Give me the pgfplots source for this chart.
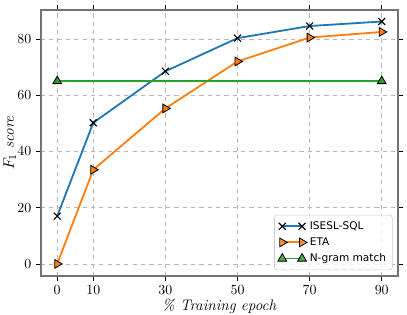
\documentclass[border=0pt]{standalone}
\usepackage{fontspec}
\newfontfamily\dejavu{DejaVu Sans}
\usepackage{pgfplots}
\pgfplotsset{compat=1.18}
\definecolor{tblue}{HTML}{1F77B4}
\definecolor{torange}{HTML}{FF7F0E}
\definecolor{tgreen}{HTML}{2CA02C}
\begin{document}
\begin{tikzpicture}
\begin{axis}[
  name=ax,
  scale only axis,
  width=257pt, height=191.5pt,
  xmin=-4.5, xmax=94.5,
  ymin=-4.3, ymax=90.3,
  xtick={0,10,30,50,70,90},
  ytick={0,20,40,60,80},
  tick align=outside,
  tick style={black, line width=0.6pt},
  major tick length=3.5pt,
  axis line style={draw=black!55, line width=1pt},
  grid=major,
  grid style={dashed, black!28, line width=0.5pt},
  xlabel={\fontsize{11}{13}\selectfont\textit{\% Training epoch}},
  ylabel={\fontsize{11}{13}\selectfont$F_1$ \textit{score}},
  xlabel style={yshift=4pt},
  ylabel style={yshift=-6pt},
  legend style={at={(0.985,0.022)}, anchor=south east, font=\dejavu\fontsize{7.6}{9}\selectfont,
    draw=black!20, rounded corners=2pt, fill=white, fill opacity=0.8, text opacity=1,
    row sep=0.5pt, inner sep=2.5pt},
  legend cell align=left,
  legend image code/.code={\draw[#1] plot coordinates {(0cm,0cm) (0.5cm,0cm)};},
]
\addplot[tblue, line width=1.3pt, mark=x, mark size=3.5pt, mark options={black, line width=0.8pt}]
  coordinates {(0,17) (10,50.2) (30,68.5) (50,80.3) (70,84.6) (90,86.2)};
\addlegendentry{ISESL-SQL}
\addplot[torange, line width=1.3pt, mark=triangle*, mark size=3.6pt, mark options={rotate=-90, fill=torange, draw=black, line width=0.6pt}]
  coordinates {(0,0) (10,33.5) (30,55.3) (50,72) (70,80.5) (90,82.5)};
\addlegendentry{ETA}
\addplot[tgreen, line width=1.3pt, mark=triangle*, mark size=3.6pt, mark options={fill=tgreen, draw=black, line width=0.6pt}]
  coordinates {(0,65) (90,65)};
\addlegendentry{N-gram match}
\end{axis}
\pgfresetboundingbox
\path[use as bounding box] ([shift={(-29.5pt,-27.4pt)}]ax.south west) rectangle ([shift={(6.5pt,7.2pt)}]ax.north east);
\end{tikzpicture}
\end{document}
